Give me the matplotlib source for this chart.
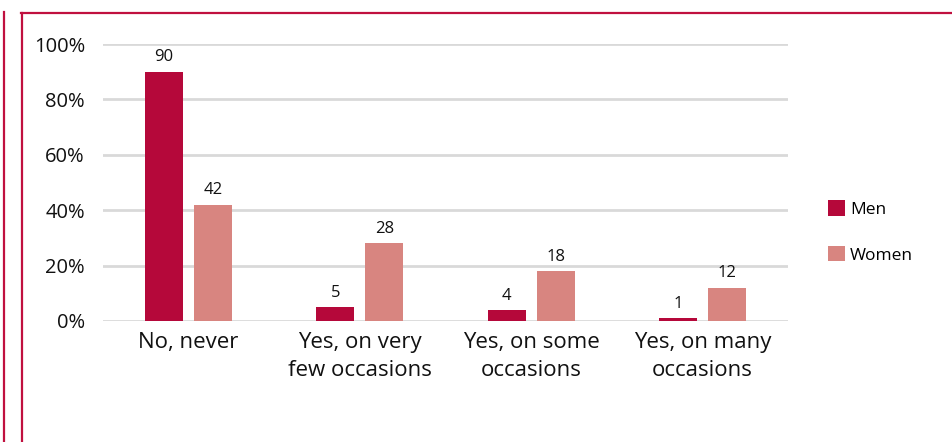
import matplotlib
matplotlib.use("Agg")
import matplotlib.pyplot as plt
import numpy as np
from matplotlib.lines import Line2D
from matplotlib.patches import Patch

categories = ["No, never", "Yes, on very\nfew occasions", "Yes, on some\noccasions", "Yes, on many\noccasions"]
men = [90, 5, 4, 1]
women = [42, 28, 18, 12]
yticks = [0, 20, 40, 60, 80, 100]
ytick_labels = ["0%", "20%", "40%", "60%", "80%", "100%"]

men_color = "#B5083A"
women_color = "#D88580"
border = "#C0103F"

plt.rcParams['font.family'] = ['Open Sans', 'DejaVu Sans']

fig = plt.figure(figsize=(9.53, 4.42), dpi=100)
ax = fig.add_axes([103/953, 121/442, 685/953, 277/442])

x = np.arange(len(categories))
w = 0.222
off = 0.143
b1 = ax.bar(x - off, men, w, color=men_color, zorder=3)
b2 = ax.bar(x + off, women, w, color=women_color, zorder=3)
for rect, v in zip(b1, men):
    ax.text(rect.get_x() + rect.get_width()/2, v + 2.3, str(v), ha='center', va='bottom', fontsize=12, color='#111111')
for rect, v in zip(b2, women):
    ax.text(rect.get_x() + rect.get_width()/2, v + 2.3, str(v), ha='center', va='bottom', fontsize=12, color='#111111')

ax.set_xlim(-0.5, len(categories) - 0.5)
ax.set_ylim(0, 100)
ax.set_yticks(yticks)
ax.set_yticklabels(ytick_labels, fontsize=14.5)
ax.set_xticks(x)
ax.set_xticklabels(categories, fontsize=16, linespacing=1.4)
ax.tick_params(axis='both', length=0, colors='#111111')
ax.tick_params(axis='y', pad=13)
ax.tick_params(axis='x', pad=8)
ax.grid(axis='y', color='#D9D9D9', linewidth=2, zorder=0)
for s in ax.spines.values():
    s.set_visible(False)

handles = [Patch(facecolor=men_color, label="Men"), Patch(facecolor=women_color, label="Women")]
fig.legend(handles=handles, loc='center left', bbox_to_anchor=(812/953, 1 - 232/442), frameon=False,
           fontsize=12.5, handlelength=1.0, handleheight=1.0, handletextpad=0.3, labelspacing=1.6)

# decorative border lines
W, H = 953, 442
fig.add_artist(Line2D([4/W, 4/W], [0, 1 - 12/H], color=border, linewidth=1.6, transform=fig.transFigure))
fig.add_artist(Line2D([22/W, 22/W], [0, 1 - 13/H], color=border, linewidth=1.6, transform=fig.transFigure))
fig.add_artist(Line2D([21.5/W, 1], [1 - 13/H, 1 - 13/H], color=border, linewidth=1.6, transform=fig.transFigure))

fig.savefig("out.png", dpi=100)
